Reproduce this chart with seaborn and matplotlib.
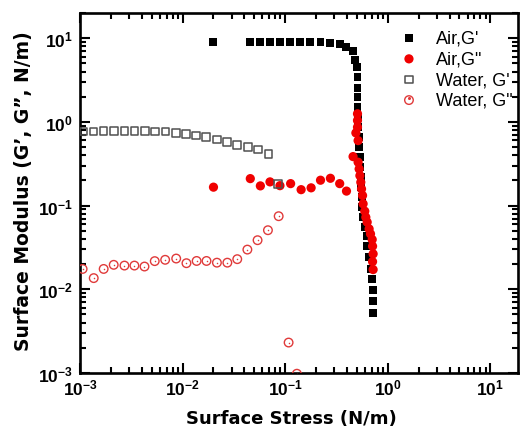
import matplotlib
matplotlib.use("Agg")
import matplotlib.pyplot as plt
import seaborn as sns
from matplotlib.lines import Line2D
from matplotlib.legend_handler import HandlerTuple
from matplotlib.ticker import LogLocator, NullFormatter

# Air, G' (filled black squares)
air_g1_x = [0.020, 0.0457, 0.0564, 0.0707, 0.0883, 0.111, 0.139, 0.173, 0.221, 0.276,
            0.340, 0.396, 0.459, 0.477, 0.496, 0.507, 0.507, 0.507, 0.507, 0.510,
            0.516, 0.523, 0.528, 0.535, 0.540, 0.546, 0.552, 0.558, 0.565, 0.571,
            0.597, 0.621, 0.630, 0.658, 0.679, 0.705, 0.711, 0.711, 0.711]
air_g1_y = [9.1, 9.1, 9.1, 9.1, 9.1, 9.1, 9.1, 9.1, 9.0, 8.8,
            8.55, 7.8, 7.05, 5.5, 4.58, 3.47, 2.53, 1.97, 1.50, 1.15,
            0.871, 0.662, 0.503, 0.382, 0.290, 0.220, 0.167, 0.127, 0.0964, 0.0732,
            0.0557, 0.0438, 0.0333, 0.0242, 0.0175, 0.0133, 0.0099, 0.00733, 0.00518]

# Air, G'' (filled red circles)
air_g2_x = [0.020, 0.0457, 0.0573, 0.0711, 0.0889, 0.113, 0.143, 0.179, 0.221, 0.276,
            0.340, 0.396, 0.507, 0.507, 0.507, 0.489, 0.514, 0.459, 0.514, 0.526,
            0.535, 0.546, 0.555, 0.568, 0.575, 0.597, 0.611, 0.630, 0.658, 0.679,
            0.705, 0.711, 0.720, 0.711, 0.720]
air_g2_y = [0.166, 0.210, 0.172, 0.192, 0.173, 0.183, 0.155, 0.163, 0.201, 0.212,
            0.183, 0.149, 1.25, 1.04, 0.865, 0.739, 0.598, 0.385, 0.330, 0.274,
            0.228, 0.190, 0.158, 0.132, 0.105, 0.0857, 0.0726, 0.0634, 0.0527, 0.0459,
            0.0393, 0.0327, 0.0265, 0.0214, 0.0172]

# Water, G' (open grey squares)
water_g1_x = [0.00108, 0.00135, 0.00170, 0.00213, 0.00271, 0.00339, 0.00431, 0.00540,
              0.00680, 0.00866, 0.01083, 0.0136, 0.0170, 0.0216, 0.0270, 0.0338,
              0.0433, 0.0542, 0.0685, 0.0851]
water_g1_y = [0.77, 0.77, 0.78, 0.78, 0.78, 0.78, 0.78, 0.77,
              0.77, 0.74, 0.72, 0.686, 0.656, 0.615, 0.572, 0.531,
              0.499, 0.467, 0.411, 0.180]

# Water, G'' (open red circles)
water_g2_x = [0.00106, 0.00136, 0.00170, 0.00213, 0.00271, 0.00339, 0.00425, 0.00535,
              0.00676, 0.00866, 0.0109, 0.0137, 0.0171, 0.0216, 0.0273, 0.0341,
              0.0428, 0.0538, 0.0679, 0.0864, 0.108, 0.130]
water_g2_y = [0.0175, 0.0136, 0.0175, 0.0196, 0.0192, 0.0192, 0.0187, 0.0217,
              0.0225, 0.0233, 0.0205, 0.0218, 0.0218, 0.0208, 0.0208, 0.0229,
              0.0298, 0.0386, 0.0508, 0.0747, 0.00231, 0.00098]

sns.set_style("ticks")
plt.rcParams["font.family"] = ["Liberation Sans", "DejaVu Sans"]
plt.rcParams["font.weight"] = "bold"
plt.rcParams["text.color"] = "black"
plt.rcParams["axes.labelcolor"] = "black"
plt.rcParams["xtick.color"] = "black"
plt.rcParams["ytick.color"] = "black"
plt.rcParams["mathtext.fontset"] = "custom"
plt.rcParams["mathtext.rm"] = "Liberation Sans:bold"
plt.rcParams["mathtext.it"] = "Liberation Sans:bold"
plt.rcParams["mathtext.bf"] = "Liberation Sans:bold"

red = "#f00000"
red_open = "#e03a3a"

fig = plt.figure(figsize=(5.21, 4.31), dpi=100)
ax = fig.add_axes([0.1536, 0.1323, 0.8406, 0.8352])

sns.scatterplot(x=air_g1_x, y=air_g1_y, marker="s", s=33, color="black",
                edgecolor="none", label="Air,G'", ax=ax, zorder=3)
sns.scatterplot(x=air_g2_x, y=air_g2_y, marker="o", s=44, color=red,
                edgecolor="none", label='Air,G"', ax=ax, zorder=4)
sns.scatterplot(x=water_g1_x, y=water_g1_y, marker="s", s=30, facecolor="none",
                edgecolor="#505050", linewidth=1.1, label="Water, G'", ax=ax, zorder=5)
sns.scatterplot(x=water_g2_x, y=water_g2_y, marker="o", s=38, facecolor="none",
                edgecolor=red_open, linewidth=1.0, label='Water, G"', ax=ax, zorder=6)
ax.scatter(water_g2_x, water_g2_y, marker="o", s=1.2, color=red_open,
           linewidth=0, zorder=6)

ax.set_xscale("log")
ax.set_yscale("log")
ax.set_xlim(1e-3, 18.6)
ax.set_ylim(1e-3, 20)

for axis in (ax.xaxis, ax.yaxis):
    axis.set_major_locator(LogLocator(base=10, numticks=10))
    axis.set_minor_locator(LogLocator(base=10, subs=range(2, 10), numticks=20))
    axis.set_minor_formatter(NullFormatter())

ax.tick_params(which="both", direction="in", top=True, right=True, width=1.5)
ax.tick_params(which="major", length=7, labelsize=12.5)
ax.tick_params(axis="x", which="major", pad=3)
ax.tick_params(axis="y", which="major", pad=5)
ax.tick_params(which="minor", length=4)
for sp in ax.spines.values():
    sp.set_linewidth(1.9)
    sp.set_color("black")

ax.set_xlabel("Surface Stress (N/m)", fontsize=13, fontweight="bold",
              family="DejaVu Sans")
ax.set_ylabel("Surface Modulus (G\u2019, G\u201d, N/m)", fontsize=13.5,
              fontweight="bold", family="DejaVu Sans")
ax.xaxis.set_label_coords(0.483, -0.1)
ax.yaxis.set_label_coords(-0.107, 0.508)

handles, labels = ax.get_legend_handles_labels()
dot = Line2D([], [], marker="o", markersize=1.2, color=red_open, linestyle="none")
handles[3] = (handles[3], dot)
ax.legend(handles, labels, loc="upper right", bbox_to_anchor=(1.025, 0.998),
          frameon=False, prop={"size": 13, "weight": "normal"},
          handletextpad=0.5, labelspacing=0.2,
          handler_map={tuple: HandlerTuple(ndivide=1, pad=0)})

fig.savefig("out.png", dpi=100)
